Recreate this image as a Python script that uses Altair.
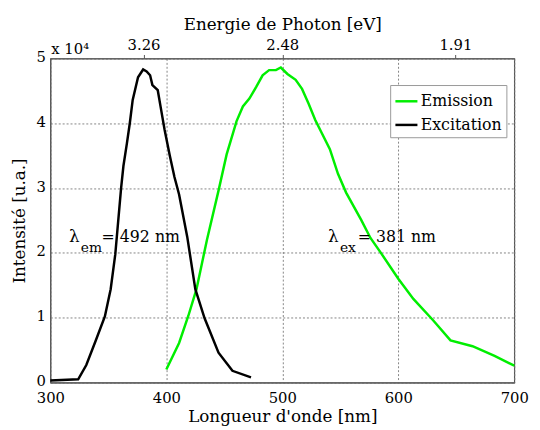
import altair as alt
import pandas as pd

# Excitation spectrum (x 10^4 counts)
exc_wl = [300, 324, 331, 339, 347, 352, 356, 361, 363, 366, 368.5, 371, 375.6, 380, 383, 386, 388, 392.6, 395, 398.5, 403, 407, 411, 418, 425, 433, 445, 457, 473]
exc_I = [0.03, 0.05, 0.27, 0.64, 1.02, 1.44, 1.98, 3.0, 3.34, 3.69, 4.0, 4.36, 4.71, 4.83, 4.8, 4.74, 4.59, 4.51, 4.26, 3.9, 3.5, 3.17, 2.9, 2.25, 1.44, 0.99, 0.46, 0.18, 0.08]

# Emission spectrum (x 10^4 counts)
em_wl = [400, 411, 419, 426, 435, 445, 452, 460.5, 466, 471.6, 477.5, 483, 488.6, 494.5, 498.7, 504.4, 511.5, 517, 522.7, 528.4, 534, 541, 548, 555, 568, 576, 585, 600, 613, 630, 645, 664, 683, 700]
em_I = [0.2, 0.61, 1.03, 1.44, 2.2, 2.96, 3.52, 4.03, 4.26, 4.38, 4.56, 4.74, 4.82, 4.82, 4.86, 4.76, 4.67, 4.53, 4.3, 4.05, 3.85, 3.6, 3.22, 2.93, 2.51, 2.23, 2.0, 1.6, 1.29, 0.96, 0.65, 0.56, 0.41, 0.26]

series_names = ["Emission", "Excitation"]
series_colors = ["#00ee00", "#000000"]

x_ticks = [300, 400, 500, 600, 700]
y_ticks = [0, 1, 2, 3, 4, 5]
energy_ticks = [3.26, 2.48, 1.91]

ann_x = [316.1, 326.3, 344.2, 539.5, 549.7, 565.0]
ann_y = [2.25, 2.07, 2.25, 2.25, 2.07, 2.25]
ann_text = ["λ", "em", "= 492 nm", "λ", "ex", "= 381 nm"]
ann_size = [17, 14, 16, 17, 14, 16]

df = pd.concat([
    pd.DataFrame({"wl": em_wl, "I": em_I, "serie": "Emission"}),
    pd.DataFrame({"wl": exc_wl, "I": exc_I, "serie": "Excitation"}),
])
ann = pd.DataFrame({"wl": ann_x, "I": ann_y, "t": ann_text, "fs": ann_size})
top = pd.DataFrame({"wl": [1240 / e for e in energy_ticks]})
mult = pd.DataFrame({"wl": [300], "I": [5], "t": ["x 10⁴"]})

SERIF = "DejaVu Serif"
x_scale = alt.Scale(domain=[300, 700], nice=False, zero=False)
y_scale = alt.Scale(domain=[0, 5], nice=False)
y_axis = alt.Axis(title="Intensité [u.a.]", values=y_ticks, format="d",
                  grid=True, gridDash=[2, 2], gridColor="#777", gridOpacity=0.9,
                  ticks=False, labelPadding=5, titlePadding=8, labelOffset=-2)

lines = alt.Chart(df).mark_line(strokeWidth=2.5).encode(
    x=alt.X("wl:Q", scale=x_scale,
            axis=alt.Axis(title="Longueur d'onde [nm]", values=x_ticks, format="d",
                          grid=True, gridDash=[2, 2], gridColor="#777", gridOpacity=0.9,
                          ticks=False, labelPadding=8, titlePadding=4, labelFlush=False)),
    y=alt.Y("I:Q", scale=y_scale, axis=y_axis),
    color=alt.Color("serie:N", scale=alt.Scale(domain=series_names, range=series_colors),
                    legend=alt.Legend(title=None, orient="none", legendX=345, legendY=27,
                                      symbolType="stroke", symbolSize=500, symbolStrokeWidth=2.5,
                                      labelFont=SERIF, labelFontSize=16, labelColor="#000",
                                      strokeColor="#999", fillColor="white", padding=4,
                                      rowPadding=3, labelOffset=2)),
)

top_axis = alt.Chart(top).mark_point(opacity=0).encode(
    x=alt.X("wl:Q", scale=x_scale,
            axis=alt.Axis(orient="top", title="Energie de Photon [eV]", values=list(top["wl"]),
                          labelExpr="format(1240/datum.value, '.2f')", grid=False, labelFlush=False,
                          ticks=True, tickSize=4, tickColor="#555", labelPadding=2, titlePadding=4)),
)

text = alt.Chart(ann).mark_text(align="left", baseline="middle", font=SERIF, color="black").encode(
    x=alt.X("wl:Q", scale=x_scale, axis=None),
    y=alt.Y("I:Q", scale=y_scale, axis=y_axis),
    text="t:N",
    size=alt.Size("fs:Q", scale=None, legend=None),
)

mult_text = alt.Chart(mult).mark_text(align="left", baseline="bottom", font=SERIF, fontSize=15,
                                      dx=1, dy=-2, color="black").encode(
    x=alt.X("wl:Q", scale=x_scale, axis=None),
    y=alt.Y("I:Q", scale=y_scale, axis=y_axis),
    text="t:N",
)

chart = alt.layer(lines, text, mult_text, top_axis).resolve_axis(x="independent").properties(
    width=471, height=329,
    autosize=alt.AutoSizeParams(type="none"),
    padding={"left": 43, "top": 48, "right": 18, "bottom": 44},
).configure_view(stroke="#555", strokeWidth=1.2).configure_axis(
    labelFont=SERIF, labelFontSize=15, labelColor="#000",
    titleFont=SERIF, titleFontSize=17, titleFontWeight="normal", titleColor="#000",
    domainColor="#555",
)

chart.save("out.html", embed_options={"renderer": "svg", "actions": False})
